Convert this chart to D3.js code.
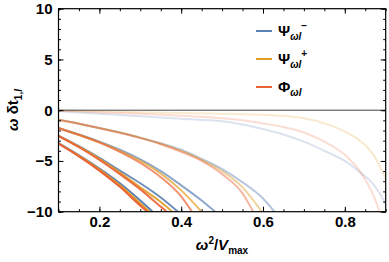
<!DOCTYPE html>
<html>
<head>
<meta charset="utf-8">
<script src="https://cdn.jsdelivr.net/npm/d3@7"></script>
<style>
body { margin: 0; background: #fff; }
text { font-family: "Liberation Sans", Arial, sans-serif; font-weight: bold; }
</style>
</head>
<body>
<div id="chart"></div>
<script>
var width = 389,
    height = 262,
    margin = {top: 8.7, right: 3.3, bottom: 50.3, left: 58.5};

// curves, one row per group (lightest group first)
var psiMinus = [
  [[0.1,-0.1],[0.2,-0.35],[0.3,-0.6],[0.4,-0.85],[0.5,-1.1],[0.55,-1.4],[0.6,-1.85],[0.65,-2.4],[0.7,-3.1],[0.75,-4.0],[0.8,-5.0],[0.84,-6.2],[0.87,-7.3],[0.9,-9.2]],
  [[0.1,-0.95],[0.15,-1.33],[0.2,-1.75],[0.25,-2.2],[0.3,-2.7],[0.35,-3.25],[0.4,-3.9],[0.45,-4.8],[0.5,-5.8],[0.55,-7.1],[0.6,-8.7],[0.628,-10]],
  [[0.1,-1.75],[0.15,-2.4],[0.2,-3.1],[0.25,-3.9],[0.3,-4.85],[0.35,-6.0],[0.4,-7.4],[0.45,-8.9],[0.483,-10]],
  [[0.1,-2.5],[0.15,-3.55],[0.2,-4.7],[0.25,-5.95],[0.3,-7.2],[0.35,-8.6],[0.392,-10]],
  [[0.1,-3.25],[0.15,-4.45],[0.2,-5.75],[0.25,-7.2],[0.3,-8.9],[0.33,-10]]
];
var psiPlus = [
  [[0.1,-0.02],[0.2,-0.1],[0.3,-0.2],[0.4,-0.28],[0.5,-0.35],[0.55,-0.4],[0.6,-0.45],[0.65,-0.55],[0.7,-0.8],[0.75,-1.3],[0.8,-2.1],[0.84,-3.1],[0.87,-4.4],[0.9,-6.7]],
  [[0.1,-0.95],[0.15,-1.33],[0.2,-1.75],[0.25,-2.2],[0.3,-2.7],[0.35,-3.3],[0.4,-4.0],[0.45,-4.9],[0.5,-6.0],[0.55,-7.6],[0.597,-10]],
  [[0.1,-1.75],[0.15,-2.42],[0.2,-3.15],[0.25,-4.0],[0.3,-5.0],[0.35,-6.25],[0.4,-7.9],[0.45,-10]],
  [[0.1,-2.52],[0.15,-3.6],[0.2,-4.8],[0.25,-6.15],[0.3,-7.6],[0.35,-9.05],[0.378,-10]],
  [[0.1,-3.28],[0.15,-4.5],[0.2,-5.85],[0.25,-7.4],[0.3,-9.2],[0.322,-10]]
];
var phi = [
  [[0.1,-0.05],[0.2,-0.2],[0.3,-0.35],[0.4,-0.55],[0.5,-0.8],[0.55,-1.0],[0.6,-1.3],[0.65,-1.65],[0.7,-2.2],[0.75,-3.1],[0.8,-4.4],[0.84,-6.2],[0.87,-8.4],[0.885,-10]],
  [[0.1,-0.95],[0.15,-1.34],[0.2,-1.77],[0.25,-2.23],[0.3,-2.75],[0.35,-3.35],[0.4,-4.1],[0.45,-5.0],[0.5,-6.3],[0.55,-8.2],[0.576,-10]],
  [[0.1,-1.78],[0.15,-2.45],[0.2,-3.2],[0.25,-4.1],[0.3,-5.2],[0.35,-6.6],[0.4,-8.5],[0.426,-10]],
  [[0.1,-2.55],[0.15,-3.65],[0.2,-4.9],[0.25,-6.3],[0.3,-7.8],[0.35,-9.5],[0.365,-10]],
  [[0.1,-3.3],[0.15,-4.55],[0.2,-5.95],[0.25,-7.55],[0.3,-9.4],[0.317,-10]]
];
var groupOpacity = [0.22, 0.45, 0.7, 0.9, 1];

var seriesNames = ["psiMinus", "psiPlus", "phi"];
var seriesColors = ["#5E81B5", "#E19C24", "#EB6235"];
var seriesData = [psiMinus, psiPlus, phi];

var xMajor = [0.2, 0.4, 0.6, 0.8];
var xMinor = d3.range(0.1, 0.901, 0.05);
var yMajor = [-10, -5, 0, 5, 10];
var yMinor = d3.range(-10, 10.01, 1);

var svg = d3.select("#chart").append("svg")
    .attr("width", width)
    .attr("height", height);

var iw = width - margin.left - margin.right,
    ih = height - margin.top - margin.bottom;

var x = d3.scaleLinear().domain([0.1, 0.9]).range([margin.left, margin.left + iw]);
var y = d3.scaleLinear().domain([-10, 10]).range([margin.top + ih, margin.top]);

svg.append("clipPath").attr("id", "clip")
  .append("rect")
    .attr("x", margin.left).attr("y", margin.top)
    .attr("width", iw).attr("height", ih);

var line = d3.line()
    .x(function(d) { return x(d[0]); })
    .y(function(d) { return y(d[1]); })
    .curve(d3.curveMonotoneX);

var plot = svg.append("g").attr("clip-path", "url(#clip)");

seriesData.forEach(function(groups, si) {
  plot.selectAll("path." + seriesNames[si])
    .data(groups)
    .enter().append("path")
      .attr("class", seriesNames[si])
      .attr("d", line)
      .attr("fill", "none")
      .attr("stroke", seriesColors[si])
      .attr("stroke-width", 2)
      .attr("stroke-opacity", function(d, i) { return groupOpacity[i]; });
});

// zero axis line
svg.append("line")
    .attr("x1", margin.left).attr("x2", margin.left + iw)
    .attr("y1", y(0)).attr("y2", y(0))
    .attr("stroke", "#444")
    .attr("stroke-width", 1);

function drawAxis(axis, tx, ty) {
  var g = svg.append("g")
      .attr("transform", "translate(" + tx + "," + ty + ")")
      .call(axis);
  g.select(".domain").remove();
  g.selectAll(".tick line").attr("stroke", "#000").attr("stroke-width", 1);
  g.selectAll("text").attr("fill", "#000").style("font-size", "15px").style("font-weight", "bold");
  return g;
}

var fmt = function(d) { return d < 0 ? "\u2212" + Math.abs(d) : d; };

drawAxis(d3.axisBottom(x).tickValues(xMajor).tickSize(-5).tickPadding(5).tickFormat(d3.format(".1f")), 0, margin.top + ih);
drawAxis(d3.axisBottom(x).tickValues(xMinor).tickSize(-2.5).tickFormat(""), 0, margin.top + ih);
drawAxis(d3.axisTop(x).tickValues(xMajor).tickSize(-5).tickFormat(""), 0, margin.top);
drawAxis(d3.axisTop(x).tickValues(xMinor).tickSize(-2.5).tickFormat(""), 0, margin.top);
drawAxis(d3.axisLeft(y).tickValues(yMajor).tickSize(-5).tickPadding(6).tickFormat(fmt), margin.left, 0);
drawAxis(d3.axisLeft(y).tickValues(yMinor).tickSize(-2.5).tickFormat(""), margin.left, 0);
drawAxis(d3.axisRight(y).tickValues(yMajor).tickSize(-5).tickFormat(""), margin.left + iw, 0);
drawAxis(d3.axisRight(y).tickValues(yMinor).tickSize(-2.5).tickFormat(""), margin.left + iw, 0);

// frame
svg.append("rect")
    .attr("x", margin.left).attr("y", margin.top)
    .attr("width", iw).attr("height", ih)
    .attr("fill", "none")
    .attr("stroke", "#000")
    .attr("stroke-width", 1.2);

// axis labels
var xl = svg.append("text")
    .attr("x", 222).attr("y", 250)
    .attr("text-anchor", "middle")
    .style("font-size", "15px");
xl.append("tspan").style("font-style", "italic").text("\u03C9");
xl.append("tspan").attr("dy", -6).style("font-size", "10px").text("2");
xl.append("tspan").attr("dy", 6).text("/");
xl.append("tspan").style("font-style", "italic").text("V");
xl.append("tspan").attr("dy", 4).style("font-size", "10px").text("max");

var yl = svg.append("text")
    .attr("transform", "translate(18,110) rotate(-90)")
    .attr("text-anchor", "middle")
    .style("font-size", "15px");
yl.append("tspan").style("font-style", "italic").text("\u03C9");
yl.append("tspan").text(" \u03B4t");
yl.append("tspan").attr("dy", 4).style("font-size", "10px").text("1,");
yl.append("tspan").style("font-size", "10px").style("font-style", "italic").text("l");

// legend
var legendY = [31, 59, 87];
var leg = svg.append("g");
seriesNames.forEach(function(name, i) {
  leg.append("line")
      .attr("x1", 256).attr("x2", 272)
      .attr("y1", legendY[i]).attr("y2", legendY[i])
      .attr("stroke", seriesColors[i])
      .attr("stroke-width", 2);
  var t = leg.append("text")
      .attr("x", 278).attr("y", legendY[i] + 5)
      .style("font-size", "15px");
  t.append("tspan").text(i < 2 ? "\u03A8" : "\u03A6");
  t.append("tspan").attr("dy", 4).style("font-size", "10px").style("font-style", "italic").text("\u03C9l");
  if (i < 2) {
    t.append("tspan").attr("dy", -11).style("font-size", "10px").text(i == 0 ? "\u2212" : "+");
  }
});
</script>
</body>
</html>
